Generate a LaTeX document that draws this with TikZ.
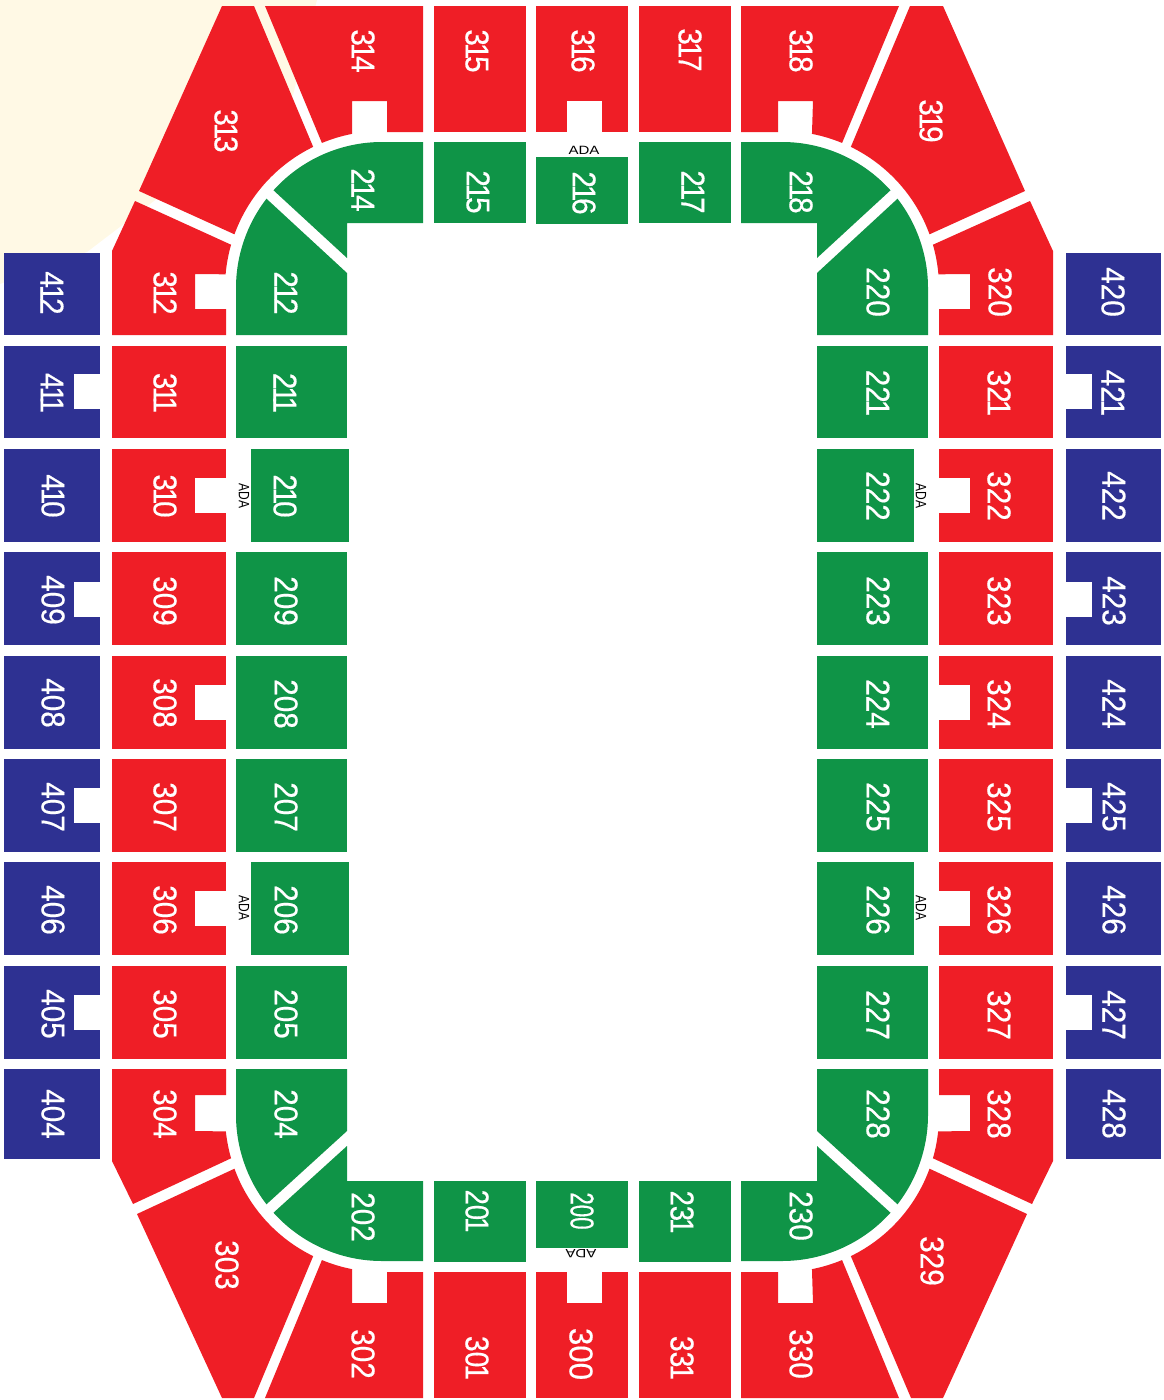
\documentclass[tikz,border=0pt]{standalone}
\usepackage{fontspec}
\setmainfont{Liberation Sans}
\newfontfamily\secfont[FakeBold=.5]{Liberation Sans}
\definecolor{redsec}{HTML}{EF1E26}
\definecolor{greensec}{HTML}{0F9447}
\definecolor{bluesec}{HTML}{2E3192}
\definecolor{creamback}{HTML}{FFF9E5}
\newcommand\midone{\kern-3.5pt 1\kern-3.5pt\relax}
\newcommand\lastone{\kern-3.5pt 1}
\tikzset{
  red sec/.style={fill=redsec},
  green sec/.style={fill=greensec},
  blue sec/.style={fill=bluesec},
  notch/.style={fill=white},
  sec label/.style={anchor=center,inner sep=0pt,xshift=2pt,yshift=-1pt,rotate=-90,xscale=.9,text=white,font=\secfont\fontsize{33}{33}\selectfont},
  ada label/.style={anchor=center,inner sep=0pt,xscale=1.25,text=black,font=\fontsize{12}{12}\selectfont}
}
\begin{document}
\begin{tikzpicture}[x=1pt,y=-1pt]
\path[use as bounding box] (0,0) rectangle (1163,1400);
\fill[creamback] (0,0) -- (317,0) -- (293,95) -- (87,252) -- (0,284) -- cycle;
\fill[red sec] (382,288) ++(247.5:157) arc[start angle=247.5,end angle=259,radius=157] -- (352,101) -- (387,101) -- (387,132) -- (423,132) -- (423,6) -- (265,6) -- cycle;
\fill[red sec] (382,288) ++(244:157) arc[start angle=244,end angle=200,radius=157] -- (139,191) -- (222,6) -- (254,6) -- cycle;
\fill[red sec] (382,288) ++(196:157) arc[start angle=196,end angle=185,radius=157] -- (195,274) -- (195,309) -- (226,309) -- (226,335) -- (112,335) -- (112,251) -- (135,201) -- cycle;
\fill[green sec] (382,288) ++(222:146) arc[start angle=222,end angle=270,radius=146] -- (423,142) -- (423,223) -- (347,223) -- (347,258) -- cycle;
\fill[green sec] (382,288) ++(217.7:146) arc[start angle=217.7,end angle=180,radius=146] -- (236,335) -- (347,335) -- (347,273) -- cycle;
\fill[green sec] (782,288) ++(270:146) arc[start angle=270,end angle=318,radius=146] -- (817,258) -- (817,223) -- (741,223) -- (741,142) -- cycle;
\fill[green sec] (782,288) ++(322.3:146) arc[start angle=322.3,end angle=360,radius=146] -- (928,335) -- (817,335) -- (817,273) -- cycle;
\fill[red sec] (782,288) ++(292.5:157) arc[start angle=292.5,end angle=281,radius=157] -- (813,101) -- (778,101) -- (778,132) -- (741,132) -- (741,6) -- (899,6) -- cycle;
\fill[red sec] (782,288) ++(296:157) arc[start angle=296,end angle=340,radius=157] -- (1025,191) -- (943,6) -- (910,6) -- cycle;
\fill[red sec] (782,288) ++(344:157) arc[start angle=344,end angle=355,radius=157] -- (970,274) -- (970,309) -- (939,309) -- (939,335) -- (1053,335) -- (1053,251) -- (1030,201) -- cycle;
\fill[green sec] (382,1115) ++(142.3:146) arc[start angle=142.3,end angle=180,radius=146] -- (236,1069) -- (347,1069) -- (347,1131) -- cycle;
\fill[green sec] (382,1115) ++(138:146) arc[start angle=138,end angle=90,radius=146] -- (423,1261) -- (423,1181) -- (347,1181) -- (347,1146) -- cycle;
\fill[red sec] (382,1115) ++(116:157) arc[start angle=116,end angle=160,radius=157] -- (137,1214) -- (222,1398) -- (254,1398) -- cycle;
\fill[red sec] (382,1115) ++(164:157) arc[start angle=164,end angle=174,radius=157] -- (195,1131) -- (195,1095) -- (226,1095) -- (226,1069) -- (112,1069) -- (112,1161) -- (133,1204) -- cycle;
\fill[red sec] (382,1115) ++(112.5:157) arc[start angle=112.5,end angle=101,radius=157] -- (352,1303) -- (387,1303) -- (387,1272) -- (423,1272) -- (423,1398) -- (265,1398) -- cycle;
\fill[green sec] (782,1115) ++(37.7:146) arc[start angle=37.7,end angle=0,radius=146] -- (928,1069) -- (817,1069) -- (817,1131) -- cycle;
\fill[green sec] (782,1115) ++(42:146) arc[start angle=42,end angle=90,radius=146] -- (741,1261) -- (741,1181) -- (817,1181) -- (817,1146) -- cycle;
\fill[red sec] (782,1115) ++(64:157) arc[start angle=64,end angle=20,radius=157] -- (1027,1214) -- (943,1398) -- (911,1398) -- cycle;
\fill[red sec] (782,1115) ++(16:157) arc[start angle=16,end angle=6,radius=157] -- (970,1131) -- (970,1095) -- (939,1095) -- (939,1069) -- (1053,1069) -- (1053,1161) -- (1032,1204) -- cycle;
\fill[red sec] (782,1115) ++(67.5:157) arc[start angle=67.5,end angle=79,radius=157] -- (813,1303) -- (778,1303) -- (778,1272) -- (741,1272) -- (741,1398) -- (899,1398) -- cycle;
\fill[red sec] (434,6) rectangle ++(92,126);
\fill[red sec] (536,6) rectangle ++(92,126);
\fill[notch] (567,101) rectangle ++(35,31);
\fill[red sec] (639,6) rectangle ++(92,126);
\fill[green sec] (434,142) rectangle ++(92,81);
\fill[green sec] (536,157) rectangle ++(92,67);
\fill[green sec] (639,142) rectangle ++(92,81);
\fill[green sec] (434,1181) rectangle ++(92,81);
\fill[green sec] (536,1181) rectangle ++(92,67);
\fill[green sec] (639,1181) rectangle ++(92,81);
\fill[red sec] (434,1272) rectangle ++(92,126);
\fill[red sec] (536,1272) rectangle ++(92,126);
\fill[notch] (567,1272) rectangle ++(35,31);
\fill[red sec] (639,1272) rectangle ++(92,126);
\fill[blue sec] (4,253) rectangle ++(96,82);
\fill[blue sec] (4,346) rectangle ++(96,92);
\fill[notch] (74,374) rectangle ++(26,35);
\fill[blue sec] (4,449) rectangle ++(96,93);
\fill[blue sec] (4,552) rectangle ++(96,93);
\fill[notch] (74,582) rectangle ++(26,35);
\fill[blue sec] (4,656) rectangle ++(96,93);
\fill[blue sec] (4,759) rectangle ++(96,93);
\fill[notch] (74,788) rectangle ++(26,35);
\fill[blue sec] (4,862) rectangle ++(96,93);
\fill[blue sec] (4,966) rectangle ++(96,93);
\fill[notch] (74,995) rectangle ++(26,35);
\fill[blue sec] (4,1069) rectangle ++(96,90);
\fill[red sec] (112,346) rectangle ++(114,92);
\fill[red sec] (112,449) rectangle ++(114,93);
\fill[notch] (195,478) rectangle ++(31,35);
\fill[red sec] (112,552) rectangle ++(114,93);
\fill[red sec] (112,656) rectangle ++(114,93);
\fill[notch] (195,685) rectangle ++(31,35);
\fill[red sec] (112,759) rectangle ++(114,93);
\fill[red sec] (112,862) rectangle ++(114,93);
\fill[notch] (195,891) rectangle ++(31,35);
\fill[red sec] (112,966) rectangle ++(114,93);
\fill[green sec] (236,346) rectangle ++(111,92);
\fill[green sec] (251,449) rectangle ++(98,93);
\fill[green sec] (236,552) rectangle ++(111,93);
\fill[green sec] (236,656) rectangle ++(111,93);
\fill[green sec] (236,759) rectangle ++(111,93);
\fill[green sec] (251,862) rectangle ++(98,93);
\fill[green sec] (236,966) rectangle ++(111,93);
\fill[green sec] (817,346) rectangle ++(111,92);
\fill[green sec] (817,449) rectangle ++(97,93);
\fill[green sec] (817,552) rectangle ++(111,93);
\fill[green sec] (817,656) rectangle ++(111,93);
\fill[green sec] (817,759) rectangle ++(111,93);
\fill[green sec] (817,862) rectangle ++(97,93);
\fill[green sec] (817,966) rectangle ++(111,93);
\fill[red sec] (939,346) rectangle ++(114,92);
\fill[red sec] (939,449) rectangle ++(114,93);
\fill[notch] (939,478) rectangle ++(31,35);
\fill[red sec] (939,552) rectangle ++(114,93);
\fill[red sec] (939,656) rectangle ++(114,93);
\fill[notch] (939,685) rectangle ++(31,35);
\fill[red sec] (939,759) rectangle ++(114,93);
\fill[red sec] (939,862) rectangle ++(114,93);
\fill[notch] (939,891) rectangle ++(31,35);
\fill[red sec] (939,966) rectangle ++(114,93);
\fill[blue sec] (1066,253) rectangle ++(95,82);
\fill[blue sec] (1066,346) rectangle ++(95,92);
\fill[notch] (1066,374) rectangle ++(26,35);
\fill[blue sec] (1066,449) rectangle ++(95,93);
\fill[blue sec] (1066,552) rectangle ++(95,93);
\fill[notch] (1066,582) rectangle ++(26,35);
\fill[blue sec] (1066,656) rectangle ++(95,93);
\fill[blue sec] (1066,759) rectangle ++(95,93);
\fill[notch] (1066,788) rectangle ++(26,35);
\fill[blue sec] (1066,862) rectangle ++(95,93);
\fill[blue sec] (1066,966) rectangle ++(95,93);
\fill[notch] (1066,995) rectangle ++(26,35);
\fill[blue sec] (1066,1069) rectangle ++(95,90);
\node[sec label] (s314) at (361,50) {3\midone4};
\node[sec label] (s315) at (475,50) {3\midone5};
\node[sec label] (s316) at (581,50) {3\midone6};
\node[sec label] (s317) at (688,49) {3\midone7};
\node[sec label] (s318) at (799,50) {3\midone8};
\node[sec label] (s313) at (224,130) {3\midone3};
\node[sec label] (s319) at (929,120) {3\midone9};
\node[sec label] (s214) at (361,189) {2\midone4};
\node[sec label] (s215) at (476,191) {2\midone5};
\node[sec label] (s216) at (582,192) {2\midone6};
\node[sec label] (s217) at (691,191) {2\midone7};
\node[sec label] (s218) at (799,191) {2\midone8};
\node[sec label] (s412) at (50,292) {4\midone2};
\node[sec label] (s312) at (163,292) {3\midone2};
\node[sec label] (s212) at (284,292) {2\midone2};
\node[sec label] (s220) at (876,291) {220};
\node[sec label] (s320) at (998,291) {320};
\node[sec label] (s420) at (1111,291) {420};
\node[sec label] (s411) at (50,392) {4\midone\lastone};
\node[sec label] (s311) at (163,392) {3\midone\lastone};
\node[sec label] (s211) at (283,392) {2\midone\lastone};
\node[sec label] (s221) at (876,392) {22\lastone};
\node[sec label] (s321) at (997,392) {32\lastone};
\node[sec label] (s421) at (1111,392) {42\lastone};
\node[sec label] (s410) at (51,495) {4\midone0};
\node[sec label] (s310) at (163,495) {3\midone0};
\node[sec label] (s210) at (283,495) {2\midone0};
\node[sec label] (s222) at (876,495) {222};
\node[sec label] (s322) at (997,495) {322};
\node[sec label] (s422) at (1112,495) {422};
\node[sec label] (s409) at (51,599) {409};
\node[sec label] (s309) at (163,600) {309};
\node[sec label] (s209) at (284,600) {209};
\node[sec label] (s223) at (876,600) {223};
\node[sec label] (s323) at (997,600) {323};
\node[sec label] (s423) at (1112,600) {423};
\node[sec label] (s408) at (51,702) {408};
\node[sec label] (s308) at (163,702) {308};
\node[sec label] (s208) at (284,703) {208};
\node[sec label] (s224) at (876,703) {224};
\node[sec label] (s324) at (997,703) {324};
\node[sec label] (s424) at (1112,703) {424};
\node[sec label] (s407) at (51,806) {407};
\node[sec label] (s307) at (163,806) {307};
\node[sec label] (s207) at (284,806) {207};
\node[sec label] (s225) at (876,806) {225};
\node[sec label] (s325) at (997,806) {325};
\node[sec label] (s425) at (1112,806) {425};
\node[sec label] (s406) at (51,909) {406};
\node[sec label] (s306) at (163,909) {306};
\node[sec label] (s206) at (284,909) {206};
\node[sec label] (s226) at (876,909) {226};
\node[sec label] (s326) at (997,909) {326};
\node[sec label] (s426) at (1112,909) {426};
\node[sec label] (s405) at (51,1013) {405};
\node[sec label] (s305) at (163,1013) {305};
\node[sec label] (s205) at (284,1013) {205};
\node[sec label] (s227) at (876,1014) {227};
\node[sec label] (s327) at (997,1014) {327};
\node[sec label] (s427) at (1112,1014) {427};
\node[sec label] (s404) at (51,1113) {404};
\node[sec label] (s304) at (163,1113) {304};
\node[sec label] (s204) at (284,1113) {204};
\node[sec label] (s228) at (876,1113) {228};
\node[sec label] (s328) at (997,1113) {328};
\node[sec label] (s428) at (1112,1113) {428};
\node[sec label] (s202) at (361,1216) {202};
\node[sec label,xscale=.92] (s201) at (475,1210) {20\lastone};
\node[sec label,xscale=.75] (s200) at (580,1210) {200};
\node[sec label,xscale=.92] (s231) at (680,1211) {23\lastone};
\node[sec label] (s230) at (799,1215) {230};
\node[sec label] (s303) at (225,1264) {303};
\node[sec label] (s329) at (930,1260) {329};
\node[sec label] (s302) at (361,1353) {302};
\node[sec label,xscale=.95] (s301) at (475,1357) {30\lastone};
\node[sec label,xscale=1.05] (s300) at (579,1353) {300};
\node[sec label,xscale=.95] (s331) at (680,1357) {33\lastone};
\node[sec label] (s330) at (799,1353) {330};
\node[ada label] (ada216) at (584,150) {ADA};
\node[ada label,rotate=180] (ada200) at (581,1254) {ADA};
\node[ada label,rotate=-90] (ada210) at (244,496) {ADA};
\node[ada label,rotate=-90] (ada206) at (244,908) {ADA};
\node[ada label,rotate=-90] (ada222) at (921,496) {ADA};
\node[ada label,rotate=-90] (ada226) at (921,908) {ADA};
\end{tikzpicture}
\end{document}
